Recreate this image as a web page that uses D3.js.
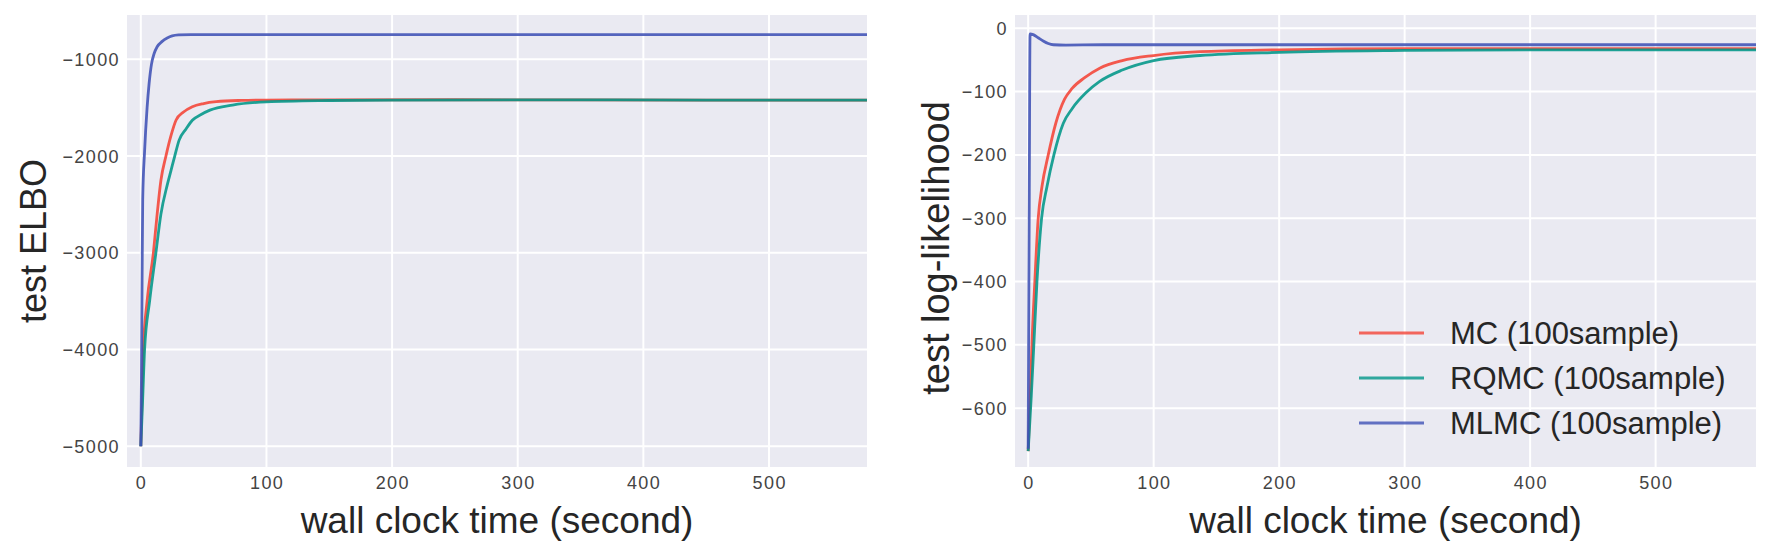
<!DOCTYPE html>
<html>
<head>
<meta charset="utf-8">
<script src="https://cdn.jsdelivr.net/npm/d3@7"></script>
<style>
  body { margin: 0; background: #fff; }
  text { font-family: "Liberation Sans", Arial, sans-serif; }
</style>
</head>
<body>
<svg id="chart" width="1770" height="555"></svg>
<script>
const seriesNames = ["MC (100sample)", "RQMC (100sample)", "MLMC (100sample)"];
const seriesColors = ["#f44336", "#009688", "#3f51b5"];
const xTicks = [0, 100, 200, 300, 400, 500];
const elboTicks = [-5000, -4000, -3000, -2000, -1000];
const llTicks = [-600, -500, -400, -300, -200, -100, 0];

// left panel: test ELBO, [seconds, value]
const elboMC = [[0,-5000],[1,-4500],[2,-4000],[5,-3500],[10,-3000],[13,-2600],[16,-2250],[20,-2000],
  [24,-1790],[28,-1630],[34,-1545],[41,-1490],[50,-1457],[60,-1438],[80,-1425],[100,-1421],
  [150,-1419],[250,-1418],[350,-1420],[450,-1421],[580,-1422]];
const elboRQMC = [[0,-5000],[1.5,-4500],[3,-4000],[7,-3500],[12,-3000],[16,-2600],[21,-2300],[24,-2150],
  [27,-2000],[30.5,-1835],[36,-1720],[41,-1630],[48,-1570],[55,-1525],[73,-1473],[100,-1440],
  [150,-1426],[200,-1421],[300,-1419],[450,-1421],[580,-1422]];
const elboMLMC = [[0,-5000],[0.5,-4300],[1,-3300],[1.5,-2450],[3,-1950],[5,-1500],[6.6,-1250],[8.5,-1050],
  [10.6,-940],[13,-870],[17,-815],[21,-780],[25,-758],[30,-748],[40,-744],[80,-745],[150,-744],
  [250,-745],[350,-744],[450,-745],[580,-745]];

// right panel: test log-likelihood
const llMC = [[0,-668],[2,-560],[3,-500],[5.3,-400],[8,-300],[11,-250],[16,-200],[22,-150],[29,-112],
  [35,-95],[45,-78],[57,-63],[75,-51],[100,-43],[137,-37],[200,-34],[300,-32],[400,-32],[580,-32]];
const llRQMC = [[0,-668],[2.5,-580],[4.5,-500],[7,-400],[10.7,-300],[15,-250],[20.5,-200],[28,-150],
  [35,-127],[46,-102],[57,-84],[75,-66],[100,-51],[137,-43],[200,-38],[300,-35],[400,-34],[580,-34]];
const llMLMC = [[0,-664],[0.8,-300],[1.5,-9],[4,-10],[8,-15],[12,-20],[16,-24],[20,-26],[30,-26.5],
  [60,-26],[150,-26],[300,-26],[450,-26],[580,-26]];

const svg = d3.select("#chart");

function drawPanel(id, box, xDomain, yDomain, yTicks, series, yLabel, yLabelX, yLabelSize, yLabelY) {
  const x = d3.scaleLinear().domain(xDomain).range([box.x0, box.x1]);
  const y = d3.scaleLinear().domain(yDomain).range([box.y1, box.y0]);
  const g = svg.append("g");

  g.append("rect")
    .attr("x", box.x0).attr("y", box.y0)
    .attr("width", box.x1 - box.x0).attr("height", box.y1 - box.y0)
    .attr("fill", "#eaeaf2");

  g.append("clipPath").attr("id", "clip" + id)
    .append("rect")
    .attr("x", box.x0).attr("y", box.y0)
    .attr("width", box.x1 - box.x0).attr("height", box.y1 - box.y0);

  // grid
  g.selectAll(".vg").data(xTicks).join("line")
    .attr("x1", d => x(d)).attr("x2", d => x(d))
    .attr("y1", box.y0).attr("y2", box.y1)
    .attr("stroke", "#fff").attr("stroke-width", 2);
  g.selectAll(".hg").data(yTicks).join("line")
    .attr("y1", d => y(d)).attr("y2", d => y(d))
    .attr("x1", box.x0).attr("x2", box.x1)
    .attr("stroke", "#fff").attr("stroke-width", 2);

  // tick labels (a bit wide in the original, hence the letter spacing)
  g.selectAll(".xt").data(xTicks).join("text")
    .attr("x", d => x(d) + 0.7).attr("y", 489)
    .attr("text-anchor", "middle")
    .attr("font-size", 18).attr("letter-spacing", 1.4).attr("fill", "#444")
    .text(d => d);
  g.selectAll(".yt").data(yTicks).join("text")
    .attr("x", box.x0 - 7).attr("y", d => y(d))
    .attr("dy", "0.36em")
    .attr("text-anchor", "end")
    .attr("font-size", 18).attr("letter-spacing", 1.4).attr("fill", "#444")
    .text(d => d < 0 ? "\u2212" + Math.abs(d) : d);

  // lines
  const line = d3.line().x(d => x(d[0])).y(d => y(d[1])).curve(d3.curveMonotoneX);
  const lg = g.append("g").attr("clip-path", `url(#clip${id})`);
  series.forEach((s, i) => {
    lg.append("path").datum(s)
      .attr("d", line)
      .attr("fill", "none")
      .attr("stroke", seriesColors[i])
      .attr("stroke-width", 2.8)
      .attr("stroke-opacity", 0.88)
      .attr("stroke-linejoin", "round");
  });

  // axis labels
  g.append("text")
    .attr("x", (box.x0 + box.x1) / 2).attr("y", 533)
    .attr("text-anchor", "middle")
    .attr("font-size", 37).attr("fill", "#262626")
    .text("wall clock time (second)");
  g.append("text")
    .attr("transform", `translate(${yLabelX},${yLabelY}) rotate(-90)`)
    .attr("text-anchor", "middle")
    .attr("font-size", yLabelSize).attr("fill", "#262626")
    .text(yLabel);

  return { x, y, g };
}

drawPanel("L", { x0: 127, x1: 867, y0: 15, y1: 467 }, [-11, 578], [-5214, -542],
  elboTicks, [elboMC, elboRQMC, elboMLMC], "test ELBO", 46, 36, 241);

drawPanel("R", { x0: 1015, x1: 1756, y0: 15, y1: 467 }, [-10.5, 580], [-693, 21],
  llTicks, [llMC, llRQMC, llMLMC], "test log-likelihood", 949, 38, 248);

// legend
const legend = svg.append("g");
seriesNames.forEach((name, i) => {
  const cy = 333 + i * 45;
  legend.append("line")
    .attr("x1", 1359).attr("x2", 1424).attr("y1", cy).attr("y2", cy)
    .attr("stroke", seriesColors[i]).attr("stroke-width", 3).attr("stroke-opacity", 0.8);
  legend.append("text")
    .attr("x", 1450).attr("y", cy).attr("dy", "0.36em")
    .attr("font-size", 31).attr("fill", "#262626")
    .text(name);
});
</script>
</body>
</html>
